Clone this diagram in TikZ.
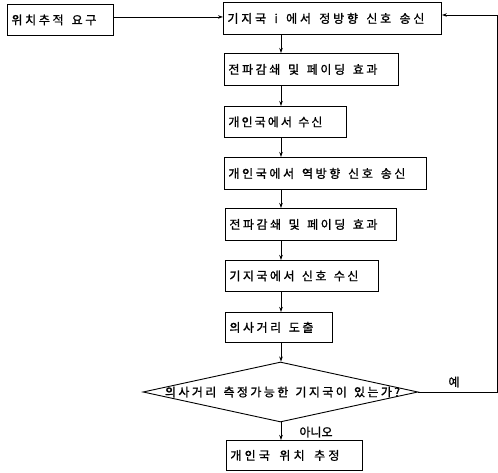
\documentclass[tikz,border=0pt]{standalone}
\usepackage{fontspec}
\setmainfont{Noto Sans CJK KR}[FakeBold=1.2]
\usetikzlibrary{arrows.meta,shapes.geometric}
\tikzset{
  box/.style={draw=black, line width=0.9pt, rectangle, anchor=north west,
    inner xsep=4pt, inner ysep=0pt, minimum height=#1, align=left,
    font=\fontsize{12}{14}\selectfont},
  box/.default=32pt,
  arr/.style={line width=0.8pt, -{Stealth[length=5pt,width=3.5pt]}},
  lbl/.style={font=\fontsize{12}{14}\selectfont, inner sep=0pt},
}
% letter gap and word gap
\newcommand{\g}{\hfill}
\newcommand{\w}{\hfill\hfill\hfill}
% name, position, box width, box height, text width, text
\newcommand{\bx}[6]{\node[box=#4pt, text width=#3pt-8pt] (#1) at #2 {\hbox to #5pt{#6}};}
\begin{document}
\begin{tikzpicture}[x=1pt,y=-1pt]
\useasboundingbox (0,0) rectangle (498,473);
\coordinate (ax) at (281,0);
\bx{b0}{(7,4)}{106}{31}{85}{위\g 치\g 추\g 적\w 요\g 구}
\bx{b1}{(223,2)}{218}{32}{197}{기\g 지\g 국\w i\w 에\g 서\w 정\g 방\g 향\w 신\g 호\w 송\g 신}
\bx{b2}{(224,53)}{174}{32}{149}{전\g 파\g 감\g 쇄\w 및\w 페\g 이\g 딩\w 효\g 과}
\bx{b3}{(224,106)}{122}{31}{94}{개\g 인\g 국\g 에\g 서\w 수\g 신}
\bx{b4}{(224,157)}{202}{32}{177}{개\g 인\g 국\g 에\g 서\w 역\g 방\g 향\w 신\g 호\w 송\g 신}
\bx{b5}{(225,208)}{171}{32}{148}{전\g 파\g 감\g 쇄\w 및\w 페\g 이\g 딩\w 효\g 과}
\bx{b6}{(225,260)}{153}{31}{129}{기\g 지\g 국\g 에\g 서\w 신\g 호\w 수\g 신}
\bx{b7}{(225,312)}{107}{30}{84}{의\g 사\g 거\g 리\w 도\g 출}
\node[draw=black, line width=0.9pt, diamond, minimum width=275pt, minimum height=60pt, inner sep=0pt] (d) at (280.5,392) {};
\node[lbl] (dt) at (282.5,392) {\hbox to 235pt{의\g 사\g 거\g 리\w 측\g 정\g 가\g 능\g 한\w 기\g 지\g 국\g 이\w 있\g 는\g 가\g ?}};
\bx{fin}{(226,440)}{136}{30}{109}{개\g 인\g 국\w 위\g 치\w 추\g 정}
% connectors
\draw[arr] ([yshift=3pt]b0.east) -- ([yshift=3pt]b0.east -| b1.west);
\draw[arr] (b1.south -| ax) -- (b2.north -| ax);
\draw[arr] (b2.south -| ax) -- (b3.north -| ax);
\draw[arr] (b3.south -| ax) -- (b4.north -| ax);
\draw[arr] (b4.south -| ax) -- (b5.north -| ax);
\draw[arr] (b5.south -| ax) -- (b6.north -| ax);
\draw[arr] (b6.south -| ax) -- (b7.north -| ax);
\draw[arr] (b7.south -| ax) -- (d.north -| ax);
\draw[arr] (d.south -| ax) -- (fin.north -| ax);
\coordinate (fb) at (497,392);
\coordinate (ft) at (497,15);
\draw[arr] (d.east) -- (fb) -- (ft) -- (ft -| b1.east);
\node[lbl] (yes) at (454,382) {예};
\node[lbl] (no) at (316,432) {아\g 니\g 오};
\end{tikzpicture}
\end{document}
